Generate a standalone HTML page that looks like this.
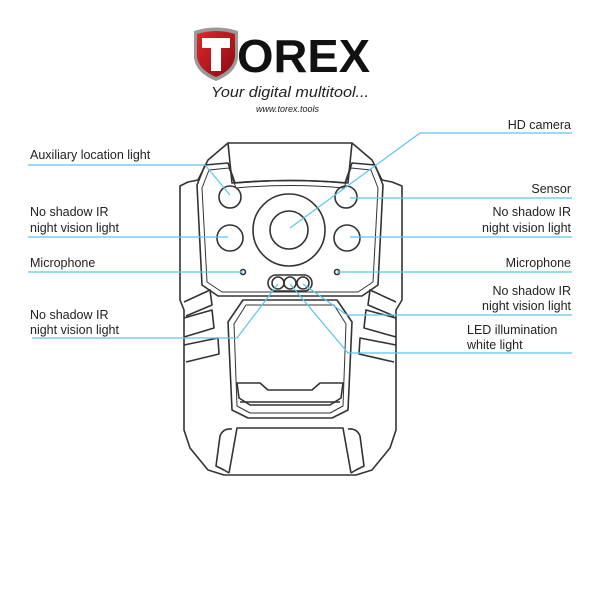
<!DOCTYPE html>
<html><head><style>
html,body{margin:0;padding:0;background:#fff;}
svg{display:block}
text{font-family:"Liberation Sans",sans-serif;fill:#222;}
</style></head><body>
<svg width="600" height="600" viewBox="0 0 600 600" xmlns="http://www.w3.org/2000/svg">
<defs>
<linearGradient id="sh" x1="0" y1="0" x2="1" y2="1">
<stop offset="0" stop-color="#e0282e"/><stop offset="1" stop-color="#8a0a10"/></linearGradient>
</defs>
<!-- logo -->
<path d="M194,31 Q216,24 238,31 L238,58 Q236,73 216,81 Q196,73 194,58 Z" fill="#999"/>
<path d="M197,34 Q216,28 235,34 L235,57 Q233,70 216,77 Q199,70 197,57 Z" fill="url(#sh)"/>
<path d="M202,38 H230 V48 H221 V71 H211 V48 H202 Z" fill="#fff"/>
<text x="237" y="72" font-size="46" font-weight="bold" fill="#111" style="fill:#111" textLength="133" lengthAdjust="spacingAndGlyphs">OREX</text>
<text x="211" y="97" font-size="15" font-style="italic" textLength="158" lengthAdjust="spacingAndGlyphs">Your digital multitool...</text>
<text x="256" y="112" font-size="9" font-style="italic">www.torex.tools</text>

<!-- camera body -->
<g fill="none" stroke="#333" stroke-width="1.6" stroke-linejoin="round">
<path d="M228,143 L352,143 L372,160 L382,180 L392,182 L402,186 L402,300 L396,310 L396,430 L390,448 L372,470 L356,475 L224,475 L208,470 L190,448 L184,430 L184,310 L180,300 L180,186 L188,182 L198,180 L208,160 Z"/>
<path d="M228,143 L232,183 Q290,178 348,183 L352,143"/>
<path d="M205,165 L228,163 L235,183 Q290,178 345,183 L352,163 L375,165 L383,185 L378,285 L362,296 L218,296 L202,285 L197,185 Z"/>
<path d="M209,170 L229,168 L236,188 Q290,183 344,188 L351,168 L371,170 L378,188 L373,282 L358,292 L222,292 L207,282 L202,188 Z" stroke-width="1"/>
<path d="M243,300 L337,300 L352,322 L348,410 L332,418 L248,418 L232,410 L228,322 Z"/>
<path d="M246,305 L334,305 L346,324 L343,406 L330,413 L250,413 L237,406 L234,324 Z" stroke-width="1"/>
<path d="M237,383 L260,383 L268,390 L312,390 L320,383 L343,383 L341,398 L330,405 L250,405 L239,398 Z"/>
<path d="M240,402 L340,402"/>
<!-- side ribs -->
<path d="M184,302 L210,290 L212,305 L186,316"/><path d="M184,318 L212,310 L214,328 L184,337"/><path d="M184,345 L218,338 L219,354 L186,362"/>
<path d="M396,302 L370,290 L368,305 L394,316"/><path d="M396,318 L366,310 L364,328 L396,337"/><path d="M396,345 L360,338 L359,354 L394,362"/>
<!-- bottom bump -->
<path d="M229,473 L237,428 L343,428 L351,473"/>
<path d="M229,473 L224,470 L216,466 L220,436 Q223,428 232,429"/>
<path d="M351,473 L356,470 L364,466 L360,436 Q357,428 348,429"/>
</g>
<g fill="none" stroke="#333" stroke-width="1.6">
<circle cx="230" cy="197" r="11"/><circle cx="346" cy="197" r="11"/>
<circle cx="230" cy="238" r="13"/><circle cx="347" cy="238" r="13"/>
<circle cx="289" cy="230" r="36"/><circle cx="289" cy="230" r="19"/>
<circle cx="243" cy="272" r="2.5"/><circle cx="337" cy="272" r="2.5"/>
<rect x="268" y="275" width="44" height="16" rx="8"/>
<circle cx="278" cy="283" r="6"/><circle cx="290" cy="283" r="6"/><circle cx="303" cy="283" r="6"/>
</g>
<!-- connectors -->
<g fill="none" stroke="#5bc5ee" stroke-width="1.2">
<path d="M28,165 H205 L230,195"/>
<path d="M572,133 H420 L290,228"/>
<path d="M350,198 H572"/>
<path d="M28,237 H228"/><path d="M350,237 H572"/>
<path d="M28,272 H243"/><path d="M337,272 H572"/>
<path d="M32,338 H237 L278,284"/>
<path d="M303,284 L347,315 H572"/>
<path d="M290,284 L348,353 H572"/>
</g>
<!-- labels -->
<g font-size="12.5">
<text x="30" y="159">Auxiliary location light</text>
<text x="30" y="216">No shadow IR</text><text x="30" y="232">night vision light</text>
<text x="30" y="267">Microphone</text>
<text x="30" y="319">No shadow IR</text><text x="30" y="334">night vision light</text>
<g text-anchor="end">
<text x="571" y="129">HD camera</text>
<text x="571" y="193">Sensor</text>
<text x="571" y="216">No shadow IR</text><text x="571" y="232">night vision light</text>
<text x="571" y="267">Microphone</text>
<text x="571" y="295">No shadow IR</text><text x="571" y="310">night vision light</text>
</g>
<text x="467" y="334">LED illumination</text><text x="467" y="349">white light</text>
</g>
</svg>
</body></html>
